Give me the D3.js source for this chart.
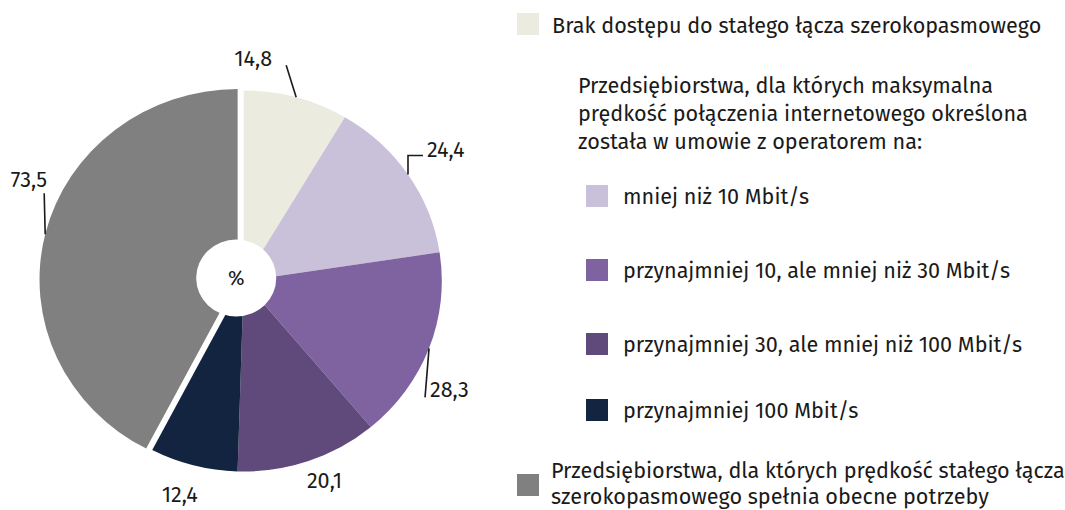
<!DOCTYPE html>
<html>
<head>
<meta charset="utf-8">
<script src="https://cdn.jsdelivr.net/npm/d3@7"></script>
<style>
  body { margin: 0; background: #fff; }
  text { font-family: "Fira Sans", "Open Sans", sans-serif; fill: #1a1a1a; }
</style>
</head>
<body>
<div id="chart"></div>
<script>
// slices in drawing order (clockwise from 12 o'clock)
const categories = [
  "Brak dostępu do stałego łącza szerokopasmowego",
  "mniej niż 10 Mbit/s",
  "przynajmniej 10, ale mniej niż 30 Mbit/s",
  "przynajmniej 30, ale mniej niż 100 Mbit/s",
  "przynajmniej 100 Mbit/s",
  "Przedsiębiorstwa, dla których prędkość stałego łącza szerokopasmowego spełnia obecne potrzeby"
];
const values = [14.8, 24.4, 28.3, 20.1, 12.4, 73.5];
const colors = ["#ecebe0", "#c9c0da", "#7f63a1", "#5f4a7b", "#12243f", "#808080"];
const groupTitle = [
  "Przedsiębiorstwa, dla  których maksymalna",
  "prędkość połączenia internetowego określona",
  "została w umowie z operatorem na:"
];
const grayLines = [
  "Przedsiębiorstwa, dla których prędkość stałego łącza",
  "szerokopasmowego spełnia obecne potrzeby"
];

const W = 1065, H = 510;
const svg = d3.select("#chart").append("svg")
    .attr("width", W)
    .attr("height", H);

const fmt = d3.formatLocale({decimal: ",", thousands: " ", grouping: [3], currency: ["", ""]}).format(".1f");
const fs = "21.6px";

// pie
const cx = 243.7, cy = 281, R = 190.5, sx = 1.04, explode = 6;
const pie = d3.pie().sort(null).value(d => d);
const arcs = pie(values);
const arc = d3.arc().innerRadius(0).outerRadius(R);
const edge = d3.arc().innerRadius(R).outerRadius(R);

const g = svg.append("g").attr("transform", `translate(${cx},${cy})`);
const pg = g.append("g").attr("transform", `scale(${sx},1)`);

const shift = (d, i) => {
    if (i !== values.length - 1) return [0, 0];
    const a = (d.startAngle + d.endAngle) / 2;
    return [Math.sin(a) * explode, -Math.cos(a) * explode];
};

pg.selectAll("path")
    .data(arcs)
    .enter()
    .append("path")
    .attr("d", arc)
    .attr("fill", (d, i) => colors[i])
    .attr("transform", (d, i) => `translate(${shift(d, i)})`);

// white hole in the middle
pg.append("circle")
    .attr("cx", -7.2)
    .attr("cy", -3)
    .attr("r", 38.5)
    .attr("fill", "#fff");

g.append("text")
    .attr("x", -7.5)
    .attr("y", -3)
    .attr("dy", "0.35em")
    .attr("text-anchor", "middle")
    .style("font-size", "20px")
    .text("%");

// value labels: leader offsets from slice edge midpoint
const labelPos = [
    {line: [[0, 0], [-10, -32]], tx: -24, ty: -31, anchor: "end"},
    {line: [[0, 0], [0, -19], [15, -19]], tx: 19, ty: -18, anchor: "start"},
    {line: [[0, 0], [-4, 49]], tx: 1, ty: 49, anchor: "start"},
    {line: null, tx: 16, ty: 27, anchor: "middle"},
    {line: null, tx: -14, ty: 37, anchor: "middle"},
    {line: [[0, 0], [-1, -41]], tx: 2, ty: -47, anchor: "end"}
];

arcs.forEach((d, i) => {
    const c = edge.centroid(d);
    const s = shift(d, i);
    const p = [(c[0] + s[0]) * sx, c[1] + s[1]];
    const lp = labelPos[i];
    if (lp.line) {
        g.append("path")
            .attr("d", d3.line()(lp.line.map(q => [p[0] + q[0], p[1] + q[1]])))
            .attr("fill", "none")
            .attr("stroke", "#1a1a1a")
            .attr("stroke-width", 1.6);
    }
    g.append("text")
        .attr("x", p[0] + lp.tx)
        .attr("y", p[1] + lp.ty)
        .attr("text-anchor", lp.anchor)
        .style("font-size", fs)
        .text(fmt(values[i]));
});

// legend
const leg = svg.append("g");
const sw = 22;

function swatch(i, x, y) {
    leg.append("rect")
        .attr("x", x).attr("y", y)
        .attr("width", sw).attr("height", sw)
        .attr("fill", colors[i]);
}

swatch(0, 517, 13);
leg.append("text")
    .attr("x", 552).attr("y", 33)
    .style("font-size", fs)
    .text(categories[0]);

leg.selectAll(".title")
    .data(groupTitle)
    .enter()
    .append("text")
    .attr("class", "title")
    .attr("x", 578)
    .attr("y", (d, i) => 93 + i * 28)
    .style("font-size", fs)
    .text(d => d);

const subY = [185, 259, 333, 399];
subY.forEach((y, k) => {
    swatch(k + 1, 586, y);
    leg.append("text")
        .attr("x", 623)
        .attr("y", y + sw / 2 + 7.5)
        .style("font-size", fs)
        .text(categories[k + 1]);
});

swatch(5, 517, 474);
leg.selectAll(".gray")
    .data(grayLines)
    .enter()
    .append("text")
    .attr("class", "gray")
    .attr("x", 551)
    .attr("y", (d, i) => 478 + i * 26)
    .style("font-size", fs)
    .text(d => d);
</script>
</body>
</html>
